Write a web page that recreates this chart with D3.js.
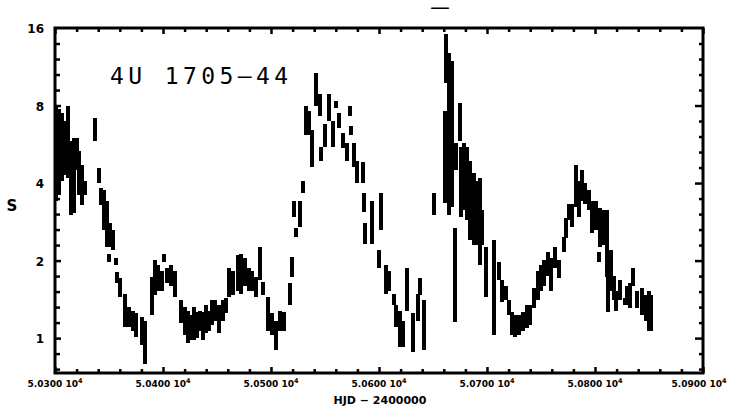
<!DOCTYPE html>
<html><head><meta charset="utf-8">
<script src="https://cdn.jsdelivr.net/npm/d3@7"></script>
<style>body{margin:0;background:#fff}svg{display:block}</style>
</head><body>
<svg id="c" width="730" height="408"></svg>
<script>
// ---- data ----
const time = [50300.9,50303.7,50306.5,50308.3,50312.0,50314.8,50317.6,50320.4,50322.2,50325.0,50327.8,50337.0,50340.7,50342.6,50345.4,50348.1,50350.9,50353.7,50350.0,50356.5,50357.4,50360.2,50364.8,50368.5,50372.2,50375.0,50380.6,50383.3,50389.8,50392.6,50395.4,50399.1,50400.9,50403.7,50407.4,50411.1,50416.7,50420.4,50423.1,50425.9,50428.7,50431.5,50434.3,50437.0,50439.8,50442.6,50445.4,50448.1,50451.9,50455.6,50458.3,50461.1,50464.8,50469.4,50472.2,50475.9,50479.6,50482.4,50486.1,50489.8,50492.6,50497.2,50500.9,50504.6,50508.3,50512.0,50517.6,50519.4,50523.1,50521.3,50526.9,50529.6,
50532.4,50535.2,50538.0,50541.7,50545.4,50546.3,50550.0,50553.7,50557.4,50560.2,50563.0,50566.7,50570.4,50573.1,50574.1,50576.9,50579.6,50585.2,50586.1,50587.0,50593.5,50601.8,50600.0,50606.5,50609.3,50613.9,50615.7,50619.4,50622.2,50625.9,50631.5,50636.1,50638.0,50641.7,
50650.9,50661.1,50662.0,50664.8,50667.6,50670.4,50671.3,50675.0,50675.9,50678.7,50681.5,50684.3,50688.0,50690.7,50693.5,50695.4,50699.1,50706.5,50711.1,50713.9,50717.6,50720.4,50723.2,50725.9,50729.6,50733.3,50737.0,50739.8,50743.5,50747.2,50750.0,50752.8,50756.5,50759.3,50763.0,50766.7,50771.3,50773.1,50775.9,50778.7,50782.4,50785.2,50788.0,50790.7,50794.4,50797.2,50800.9,50804.6,50808.3,50811.1,50803.7,50812.0,50814.8,50817.6,50819.4,50823.1,50827.8,50829.6,50832.4,50835.2,50838.9,50843.5,50847.2,50850.0,50851.9];
const rateHigh = [8.00,7.78,7.51,6.99,8.00,5.85,6.01,6.01,5.35,4.68,4.09,7.18,4.56,3.81,3.75,3.42,2.81,2.62,2.13,2.04,1.80,1.71,1.49,1.32,1.28,1.25,1.21,1.17,1.72,2.01,1.92,1.83,2.13,1.88,1.92,1.83,1.40,1.32,1.28,1.23,1.32,1.26,1.28,1.26,1.34,1.28,1.40,1.40,1.34,1.40,1.43,1.87,1.83,2.10,2.13,2.04,1.87,1.83,1.72,2.25,1.65,1.44,1.25,1.17,1.28,1.26,1.63,2.06,2.67,3.42,3.42,4.06,
8.00,7.64,6.40,10.73,8.90,5.50,6.81,8.90,6.99,8.35,7.51,6.23,5.70,8.00,6.69,5.70,4.89,4.81,3.65,2.81,3.42,3.65,2.19,1.92,1.83,1.49,1.34,1.28,1.17,1.87,1.25,1.49,1.71,1.40,
3.65,7.64,15.19,12.83,11.94,2.67,5.70,8.21,5.50,5.70,5.50,4.89,4.36,4.09,4.17,3.13,2.25,2.40,1.97,1.68,1.60,1.40,1.26,1.23,1.23,1.26,1.34,1.34,1.56,1.83,1.92,2.01,2.15,2.04,2.25,2.01,2.46,2.92,3.33,3.33,4.68,4.09,4.48,4.00,3.75,3.42,3.42,3.19,3.13,3.13,2.15,1.72,2.19,1.75,1.53,1.68,1.43,1.60,1.63,1.88,1.53,1.56,1.47,1.53,1.47];
const rateLow = [3.42,3.58,4.09,4.28,4.20,3.00,3.05,4.48,3.58,3.28,3.58,5.85,4.00,3.28,2.62,2.25,2.25,2.19,1.97,1.92,1.63,1.44,1.10,1.10,1.07,1.01,0.94,0.79,1.23,1.47,1.53,1.53,1.97,1.63,1.60,1.44,1.14,1.03,0.96,0.98,0.98,1.00,1.07,0.98,1.05,1.07,1.12,1.17,1.05,1.17,1.25,1.44,1.47,1.53,1.49,1.60,1.53,1.53,1.44,1.68,1.47,1.07,1.03,0.90,1.07,1.07,1.34,1.72,2.46,2.94,2.69,3.65,
6.12,6.12,4.60,8.00,7.31,4.89,5.50,6.99,5.50,7.85,6.57,5.45,4.89,7.31,6.12,4.60,4.00,4.00,3.08,2.33,2.33,2.62,1.87,1.49,1.53,1.34,1.10,0.92,0.92,1.28,0.88,1.17,1.47,0.90,
3.00,3.36,9.81,3.00,3.22,1.15,4.48,5.85,2.94,3.13,2.87,2.40,2.29,2.29,1.92,2.29,1.44,1.03,1.68,1.38,1.40,1.23,1.03,1.01,1.03,1.07,1.09,1.12,1.31,1.40,1.53,1.60,1.75,1.53,1.87,1.71,2.15,2.44,2.87,2.69,3.22,2.94,3.42,3.33,3.13,2.55,2.62,2.25,2.29,1.72,1.97,1.26,1.53,1.40,1.28,1.40,1.34,1.34,1.31,1.59,1.31,1.23,1.17,1.07,1.07];
const xTicks = [50300,50400,50500,50600,50700,50800,50900];
const yTicks = [1,2,4,8,16];
const sourceName = "4U 1705\u201444";
const xTitle = "HJD \u2212 2400000";
const yTitle = "S";
const chartTitle = "\u2014";

// ---- layout ----
const svg = d3.select("#c");
const L = 55, R = 703, T = 28, B = 373;
const x = d3.scaleLinear().domain([50300, 50900]).range([L, R]);
const y = d3.scaleLog().base(2).domain([Math.pow(2, -0.45), 16]).range([B, T]);

// minor ticks
const xMinor = d3.range(50300, 50900.1, 20).filter(v => !xTicks.includes(v));
const yMinor = [];
for (let k = -1; k <= 3; k++) for (let j = 1; j <= 4; j++) {
  const v = Math.pow(2, k + j / 5);
  if (v >= y.domain()[0] && v <= 16) yMinor.push(v);
}

function ax(gen, tr, vals, size) {
  const g = svg.append("g").attr("transform", tr)
    .call(gen.tickValues(vals).tickSize(size).tickFormat(""));
  g.select(".domain").remove();
  g.selectAll("line").attr("stroke", "#000").attr("stroke-width", 2.5);
}
ax(d3.axisBottom(x), `translate(0,${B})`, xTicks, -6);
ax(d3.axisBottom(x), `translate(0,${B})`, xMinor, -4);
ax(d3.axisTop(x), `translate(0,${T})`, xTicks, -6);
ax(d3.axisTop(x), `translate(0,${T})`, xMinor, -4);
ax(d3.axisLeft(y), `translate(${L},0)`, yTicks.filter(v => v < 16), -6);
ax(d3.axisLeft(y), `translate(${L},0)`, yMinor, -5);
ax(d3.axisRight(y), `translate(${R},0)`, yTicks.filter(v => v < 16), -8);
ax(d3.axisRight(y), `translate(${R},0)`, yMinor, -4);

// frame
svg.append("rect").attr("x", L).attr("y", T).attr("width", R - L).attr("height", B - T)
  .attr("fill", "none").attr("stroke", "#000").attr("stroke-width", 3);

// data bars
const idx = d3.range(time.length);
svg.append("g").selectAll("line").data(idx).join("line")
  .attr("x1", i => x(time[i])).attr("x2", i => x(time[i]))
  .attr("y1", i => y(rateLow[i])).attr("y2", i => y(rateHigh[i]))
  .attr("stroke", "#000").attr("stroke-width", 3.2).attr("shape-rendering", "crispEdges");

const font = "'DejaVu Sans', sans-serif";
// y tick labels
svg.append("g").selectAll("text").data(yTicks).join("text")
  .attr("x", 44).attr("y", d => y(d) + 5).attr("text-anchor", "end")
  .attr("font-family", font).attr("font-weight", "bold").attr("font-size", 12)
  .text(d => d);

// x tick labels
const xl = svg.append("g").selectAll("text").data(xTicks).join("text")
  .attr("x", (d, i) => x(d) - (i === xTicks.length - 1 ? 4 : 0)).attr("y", 387).attr("text-anchor", "middle")
  .attr("font-family", font).attr("font-weight", "bold").attr("font-size", 9);
xl.append("tspan").text(d => (d / 1e4).toFixed(4) + " 10");
xl.append("tspan").attr("dy", -4).attr("font-size", 6.5).text("4");

// titles
svg.append("text").attr("x", 380).attr("y", 404).attr("text-anchor", "middle")
  .attr("font-family", font).attr("font-weight", "bold").attr("font-size", 11)
  .text(xTitle);
svg.append("text").attr("x", 12).attr("y", 211).attr("text-anchor", "middle")
  .attr("font-family", font).attr("font-weight", "bold").attr("font-size", 15)
  .text(yTitle);
svg.append("text").attr("x", 430).attr("y", 12)
  .attr("font-family", font).attr("font-weight", "bold").attr("font-size", 12)
  .attr("textLength", 20).attr("lengthAdjust", "spacingAndGlyphs")
  .text(chartTitle);
svg.append("text").attr("x", 110).attr("y", 84)
  .attr("font-family", "'DejaVu Sans Mono', monospace").attr("font-size", 23)
  .attr("textLength", 178).attr("lengthAdjust", "spacing")
  .text(sourceName);
</script>
</body></html>
